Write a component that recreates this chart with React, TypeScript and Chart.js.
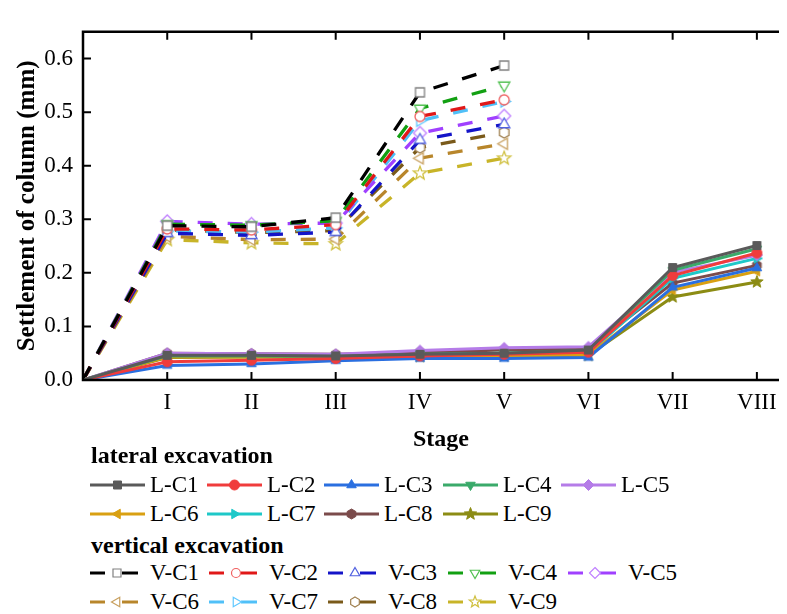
import React, { useEffect, useRef } from 'react';
import { Chart, registerables } from 'chart.js';

Chart.register(...registerables);

// ---------- data ----------
const stages = ['', 'I', 'II', 'III', 'IV', 'V', 'VI', 'VII', 'VIII'];
const yTickValues = [0, 0.1, 0.2, 0.3, 0.4, 0.5, 0.6];

// lateral excavation (solid), stages 0..VIII
const lC1 = [0, 0.046, 0.046, 0.045, 0.048, 0.050, 0.056, 0.210, 0.251];
const lC2 = [0, 0.034, 0.037, 0.040, 0.045, 0.048, 0.052, 0.195, 0.237];
const lC3 = [0, 0.027, 0.030, 0.036, 0.040, 0.040, 0.042, 0.173, 0.209];
const lC4 = [0, 0.045, 0.045, 0.044, 0.048, 0.050, 0.055, 0.205, 0.245];
const lC5 = [0, 0.050, 0.049, 0.048, 0.055, 0.060, 0.062, 0.201, 0.233];
const lC6 = [0, 0.043, 0.043, 0.043, 0.044, 0.045, 0.047, 0.168, 0.203];
const lC7 = [0, 0.044, 0.044, 0.044, 0.047, 0.050, 0.050, 0.190, 0.227];
const lC8 = [0, 0.050, 0.049, 0.048, 0.052, 0.056, 0.058, 0.181, 0.214];
const lC9 = [0, 0.042, 0.043, 0.043, 0.044, 0.045, 0.046, 0.155, 0.183];

// vertical excavation (dashed), stages 0..V
const vC1 = [0, 0.288, 0.286, 0.303, 0.537, 0.587];
const vC2 = [0, 0.282, 0.280, 0.290, 0.492, 0.523];
const vC3 = [0, 0.274, 0.270, 0.276, 0.448, 0.477];
const vC4 = [0, 0.291, 0.289, 0.297, 0.507, 0.550];
const vC5 = [0, 0.296, 0.291, 0.293, 0.461, 0.493];
const vC6 = [0, 0.268, 0.262, 0.263, 0.414, 0.441];
const vC7 = [0, 0.278, 0.276, 0.284, 0.484, 0.520];
const vC8 = [0, 0.280, 0.275, 0.279, 0.434, 0.462];
const vC9 = [0, 0.262, 0.256, 0.254, 0.386, 0.414];

const lNames = ['L-C1', 'L-C2', 'L-C3', 'L-C4', 'L-C5', 'L-C6', 'L-C7', 'L-C8', 'L-C9'];
const vNames = ['V-C1', 'V-C2', 'V-C3', 'V-C4', 'V-C5', 'V-C6', 'V-C7', 'V-C8', 'V-C9'];
const lValues = [lC1, lC2, lC3, lC4, lC5, lC6, lC7, lC8, lC9];
const vValues = [vC1, vC2, vC3, vC4, vC5, vC6, vC7, vC8, vC9];

// ---------- styles ----------
const shapes = ['square', 'circle', 'triUp', 'triDown', 'diamond', 'triLeft', 'triRight', 'hexagon', 'star'];
const lColors = ['#5a5a5a', '#f03c3c', '#2a6fe0', '#3aaa6a', '#b57ce8', '#d9a012', '#1ec8c8', '#7b4b4b', '#8c8c14'];
const vLineColors = ['#000000', '#e01818', '#1414c8', '#12a012', '#a040ff', '#b8862b', '#50c0f8', '#7a5a1a', '#c8b428'];
const vMarkColors = ['#808080', '#f06060', '#5060e0', '#50c050', '#c080ff', '#c8a060', '#60c8ff', '#a08050', '#d0c040'];
const FONT = "'Liberation Serif', 'Times New Roman', serif";

const chartSizes: Record<string, number> = { square: 4, circle: 5, triUp: 5.5, triDown: 5.5, diamond: 5.5, triLeft: 5.5, triRight: 5.5, hexagon: 5, star: 6.5 };
const vChartSizes: Record<string, number> = { square: 4.5, circle: 5, triUp: 6.5, triDown: 6.5, diamond: 6.5, triLeft: 6.5, triRight: 6.5, hexagon: 5.5, star: 7 };
const vLegendSizes: Record<string, number> = { square: 4, circle: 4.5, triUp: 5.5, triDown: 5.5, diamond: 5.5, triLeft: 5.5, triRight: 5.5, hexagon: 5, star: 6 };

function shapePoints(shape: string, cx: number, cy: number, r: number): [number, number][] | null {
  const poly = (n: number, rad: number, start: number) => {
    const pts: [number, number][] = [];
    for (let k = 0; k < n; k++) {
      const a = start + (k * 2 * Math.PI) / n;
      pts.push([cx + rad * Math.cos(a), cy + rad * Math.sin(a)]);
    }
    return pts;
  };
  switch (shape) {
    case 'square':
      return [[cx - r, cy - r], [cx + r, cy - r], [cx + r, cy + r], [cx - r, cy + r]];
    case 'triUp': return poly(3, r, -Math.PI / 2);
    case 'triDown': return poly(3, r, Math.PI / 2);
    case 'triLeft': return poly(3, r, Math.PI);
    case 'triRight': return poly(3, r, 0);
    case 'diamond': return poly(4, r, -Math.PI / 2);
    case 'hexagon': return poly(6, r, -Math.PI / 2);
    case 'star': {
      const pts: [number, number][] = [];
      for (let k = 0; k < 10; k++) {
        const a = -Math.PI / 2 + (k * Math.PI) / 5;
        const rad = k % 2 === 0 ? r : r * 0.42;
        pts.push([cx + rad * Math.cos(a), cy + rad * Math.sin(a)]);
      }
      return pts;
    }
    default: return null;
  }
}

function makeMarker(shape: string, r: number, fill: string, stroke: string, lw: number): HTMLCanvasElement {
  const size = Math.ceil(2 * r + lw + 4);
  const c = document.createElement('canvas');
  c.width = size; c.height = size;
  const ctx = c.getContext('2d')!;
  const cx = size / 2, cy = size / 2;
  ctx.beginPath();
  const pts = shapePoints(shape, cx, cy, r);
  if (pts) {
    ctx.moveTo(pts[0][0], pts[0][1]);
    for (let i = 1; i < pts.length; i++) ctx.lineTo(pts[i][0], pts[i][1]);
    ctx.closePath();
  } else {
    ctx.arc(cx, cy, r, 0, Math.PI * 2);
  }
  ctx.fillStyle = fill; ctx.fill();
  ctx.strokeStyle = stroke; ctx.lineWidth = lw; ctx.lineJoin = 'miter'; ctx.stroke();
  return c;
}

function SvgMarker({ shape, cx, cy, r, fill, stroke, sw }: any) {
  const pts = shapePoints(shape, cx, cy, r);
  if (!pts) return <circle cx={cx} cy={cy} r={r} fill={fill} stroke={stroke} strokeWidth={sw} />;
  return <polygon points={pts.map((p) => p.join(',')).join(' ')} fill={fill} stroke={stroke} strokeWidth={sw} />;
}

const framePlugin = {
  id: 'frame',
  afterDraw(chart: any) {
    const { ctx, chartArea: a, scales } = chart;
    const x = scales.x, y = scales.y;
    ctx.save();
    ctx.strokeStyle = '#000';
    ctx.lineWidth = 2.5;
    ctx.beginPath();
    ctx.moveTo(a.left, a.top - 1.25);
    ctx.lineTo(a.left, a.bottom);
    ctx.lineTo(a.right + 10, a.bottom);
    ctx.moveTo(a.left - 1.25, a.top);
    ctx.lineTo(a.right + 10, a.top);
    ctx.stroke();
    ctx.lineWidth = 2;
    ctx.beginPath();
    for (let i = 1; i < stages.length; i++) {
      const px = x.getPixelForValue(i);
      ctx.moveTo(px, a.bottom); ctx.lineTo(px, a.bottom - 8);
      ctx.moveTo(px, a.top); ctx.lineTo(px, a.top + 8);
    }
    for (const v of yTickValues) {
      if (v === 0) continue;
      const py = y.getPixelForValue(v);
      ctx.moveTo(a.left, py); ctx.lineTo(a.left + 8, py);
    }
    ctx.stroke();
    ctx.restore();
  },
};

const CW = 800, CH = 446;

export default function App() {
  const ref = useRef<HTMLCanvasElement>(null);
  useEffect(() => {
    document.documentElement.style.overflow = 'hidden';
    document.body.style.overflow = 'hidden';
    const datasets: any[] = [];
    lValues.forEach((vals, i) => {
      const shape = shapes[i];
      datasets.push({
        label: lNames[i],
        data: vals.map((v, k) => ({ x: k, y: v })),
        borderColor: lColors[i],
        borderWidth: 3,
        tension: 0,
        pointStyle: makeMarker(shape, chartSizes[shape], lColors[i], lColors[i], 1),
        pointRadius: vals.map((_, k) => (k === 0 ? 0 : 5)),
      });
    });
    vValues.forEach((vals, i) => {
      const shape = shapes[i];
      datasets.push({
        label: vNames[i],
        data: vals.map((v, k) => ({ x: k, y: v })),
        borderColor: vLineColors[i],
        borderWidth: 3.3,
        borderDash: [15, 15],
        borderCapStyle: 'butt',
        tension: 0,
        pointStyle: makeMarker(shape, vChartSizes[shape], '#ffffff', vMarkColors[i], 1.3),
        pointRadius: vals.map((_, k) => (k === 0 ? 0 : 5)),
      });
    });
    const chart = new Chart(ref.current!, {
      type: 'line',
      data: { datasets },
      plugins: [framePlugin],
      options: {
        animation: false,
        responsive: false,
        devicePixelRatio: 1,
        layout: { padding: { top: 7, right: 9, left: 0, bottom: 0 } },
        plugins: { legend: { display: false }, tooltip: { enabled: false } },
        scales: {
          x: {
            type: 'linear',
            min: 0,
            max: 8.5,
            afterBuildTicks: (s: any) => { s.ticks = stages.map((_, i) => ({ value: i })); },
            afterFit: (s: any) => { s.height = CH - 372; },
            grid: { display: false, drawTicks: false },
            border: { display: false },
            ticks: {
              autoSkip: false,
              maxRotation: 0,
              padding: 9,
              color: '#000',
              font: { family: FONT, size: 23 },
              callback: (v: any) => (Number.isInteger(v) ? stages[v] ?? '' : ''),
            },
            title: { display: true, text: 'Stage', color: '#000', font: { family: FONT, size: 24, weight: 'bold' }, padding: { top: 0, bottom: 0 } },
          },
          y: {
            min: 0,
            max: 0.65,
            afterBuildTicks: (s: any) => { s.ticks = yTickValues.map((v) => ({ value: v })); },
            afterFit: (s: any) => { s.width = 75; },
            grid: { display: false, drawTicks: false },
            border: { display: false },
            ticks: {
              padding: 10,
              color: '#000',
              font: { family: FONT, size: 23 },
              callback: (v: any) => Number(v).toFixed(1),
            },
            title: { display: true, text: 'Settlement of column (mm)', color: '#000', font: { family: FONT, size: 25, weight: 'bold' }, padding: { top: 5, bottom: 0 } },
          },
        },
      } as any,
    });
    return () => chart.destroy();
  }, []);

  const lCols = [82, 199, 316, 435, 553];
  const vCols = [82, 201, 320, 440, 560];
  const rowTop = (c: number) => c - 14;

  const item = (left: number, top: number, key: string, sample: any, text: string) => (
    <div key={key} style={{ position: 'absolute', left, top, height: 28, display: 'flex', alignItems: 'center', whiteSpace: 'nowrap' }}>
      <svg width={60} height={20} style={{ display: 'block' }}>{sample}</svg>
      <span style={{ fontFamily: FONT, fontSize: 23, color: '#000', lineHeight: '28px' }}>{text}</span>
    </div>
  );

  const lSample = (i: number) => (
    <g>
      <line x1={0} y1={10} x2={55} y2={10} stroke={lColors[i]} strokeWidth={3} />
      <SvgMarker shape={shapes[i]} cx={27.5} cy={10} r={chartSizes[shapes[i]]} fill={lColors[i]} stroke={lColors[i]} sw={1} />
    </g>
  );
  const vSample = (i: number) => (
    <g>
      <line x1={0} y1={10} x2={15} y2={10} stroke={vLineColors[i]} strokeWidth={3} />
      <line x1={32} y1={10} x2={48} y2={10} stroke={vLineColors[i]} strokeWidth={3} />
      <SvgMarker shape={shapes[i]} cx={27} cy={10} r={vLegendSizes[shapes[i]]} fill="#fff" stroke={vMarkColors[i]} sw={1.2} />
    </g>
  );

  const headStyle: any = { position: 'absolute', left: 83, fontFamily: FONT, fontSize: 24, fontWeight: 'bold', color: '#000', lineHeight: '28px', whiteSpace: 'nowrap' };

  return (
    <div style={{ position: 'relative', width: 779, height: 606, overflow: 'hidden' }}>
      <canvas ref={ref} width={CW} height={CH} style={{ position: 'absolute', left: 0, top: 0, width: CW, height: CH }} />
      <div style={{ ...headStyle, top: 447 - 14 }}>lateral excavation</div>
      {lNames.map((n, i) => item(lCols[i % 5], rowTop(i < 5 ? 477 : 506), n, lSample(i), n))}
      <div style={{ ...headStyle, top: 537 - 14 }}>vertical excavation</div>
      {vNames.map((n, i) => item(vCols[i % 5], rowTop(i < 5 ? 565 : 594), n, vSample(i), n))}
    </div>
  );
}
